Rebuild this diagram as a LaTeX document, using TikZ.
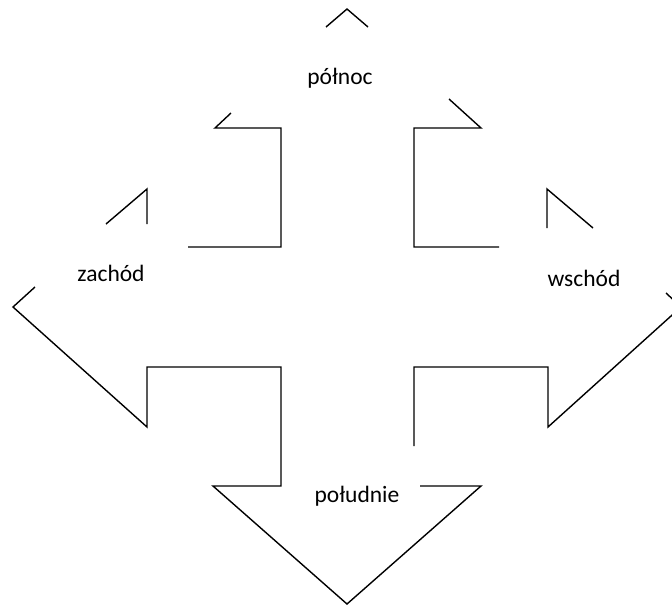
\documentclass[tikz,border=0pt]{standalone}
\usepackage{fontspec}
\setmainfont{Carlito}
\tikzset{
    outline/.style={line width=1.4pt,line join=miter},
    compass/.style={font=\fontsize{23.5}{27}\selectfont,inner sep=0pt}
}
\def\axis{347}

\begin{document}
\begin{tikzpicture}[x=1pt,y=-1pt]
  \clip (0,0) rectangle (672,606);

  % North arrow
  \draw[outline] (326,27) -- (\axis,9) -- (368,27);
  \draw[outline] (231,113) -- (215,128) -- (281,128) -- (281,247) -- (188,247);
  \draw[outline] (449,99) -- (481,128) -- (414,128) -- (414,247) -- (499,247);
  \node[compass] (north) at (340,78) {północ};

  % West arrow
  \draw[outline] (106,224) -- (147,189) -- (147,224);
  \draw[outline] (35,287) -- (13,307) -- (147,427) -- (147,367) -- (281,367)
    -- (281,486) -- (213,486) -- (\axis,604) -- (481,486) -- (420,486);
  \node[compass] (west) at (111,273) {zachód};

  % East arrow
  \draw[outline] (593,228) -- (547,189) -- (547,228);
  \draw[outline] (414,446) -- (414,367) -- (548,367) -- (548,427) -- (681,307) -- (666,293);
  \node[compass] (east) at (584,278) {wschód};

  % South label
  \node[compass] (south) at (357,496) {południe};
\end{tikzpicture}
\end{document}
